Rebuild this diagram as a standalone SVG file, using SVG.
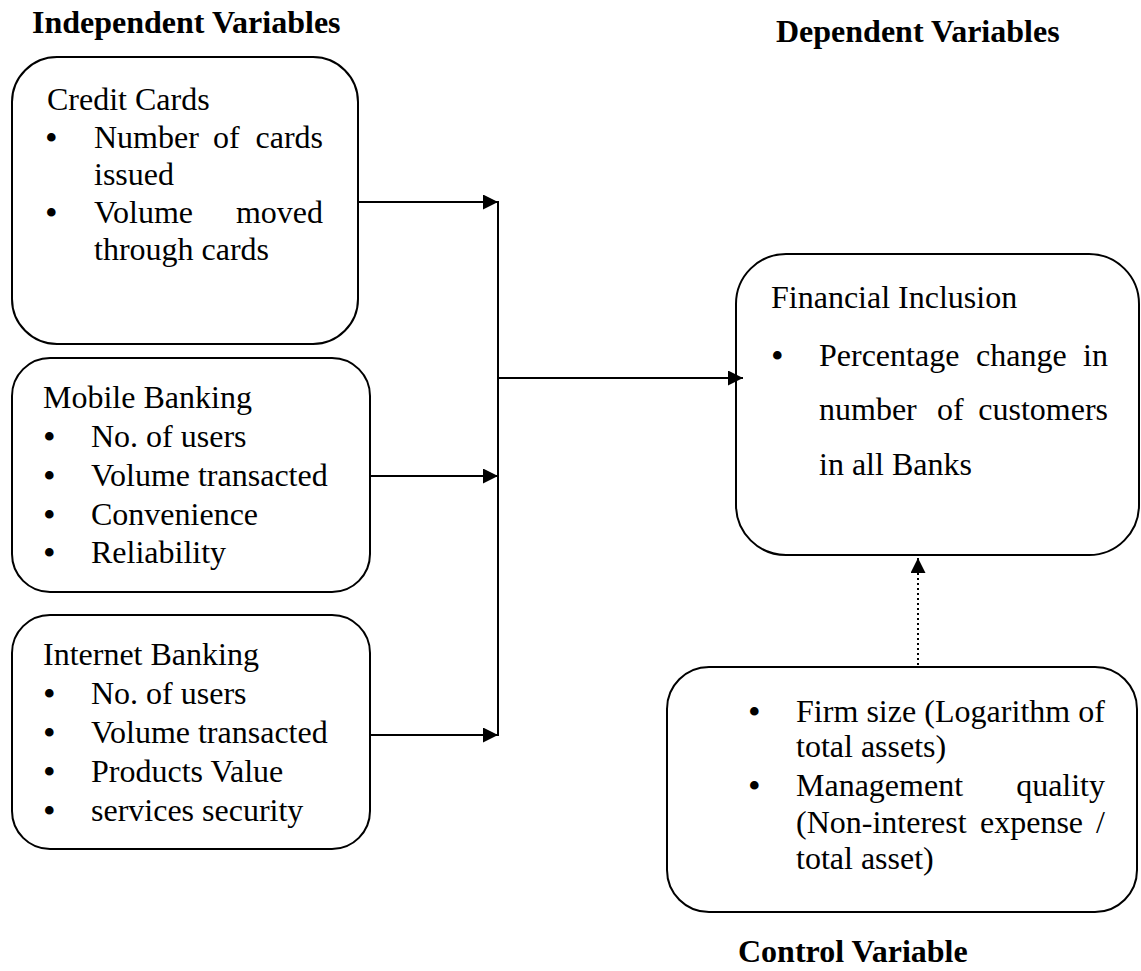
<svg xmlns="http://www.w3.org/2000/svg" width="1141" height="971" viewBox="0 0 1141 971">
<style>
text{font-family:"Liberation Serif","Times New Roman",serif;font-size:32px;fill:#000}
.h{font-weight:bold}
.b{font-size:36px}
.box{fill:#fff;stroke:#000;stroke-width:2}
.c{stroke:#000;stroke-width:2;fill:none}
.d{stroke:#000;stroke-width:2;fill:none;stroke-dasharray:2 3}
</style>
<defs>
<marker id="ah" markerUnits="userSpaceOnUse" markerWidth="16" markerHeight="16" refX="15" refY="7.5" orient="auto">
<path d="M0,0 L15,7.5 L0,15 z" fill="#000"/>
</marker>
</defs>
<rect width="1141" height="971" fill="#fff"/>
<g id="headings">
<text class="h" x="32" y="33">Independent Variables</text>
<text class="h" x="776" y="42">Dependent Variables</text>
<text class="h" x="738" y="962">Control Variable</text>
</g>
<g id="credit-cards">
<rect class="box" x="12" y="57" width="346" height="287" rx="45" ry="45"/>
<text x="47" y="110">Credit Cards</text>
<text class="b" x="45" y="150">•</text>
<text x="94" y="148">Number</text><text x="213" y="148">of</text><text x="323" y="148" text-anchor="end">cards</text>
<text x="94" y="185">issued</text>
<text class="b" x="45" y="225">•</text>
<text x="94" y="223">Volume</text><text x="323" y="223" text-anchor="end">moved</text>
<text x="94" y="260">through cards</text>
</g>
<g id="mobile-banking">
<rect class="box" x="12" y="358" width="358" height="234" rx="38" ry="38"/>
<text x="43" y="408">Mobile Banking</text>
<text class="b" x="43" y="449">•</text><text x="91" y="447">No. of users</text>
<text class="b" x="43" y="488">•</text><text x="91" y="486">Volume transacted</text>
<text class="b" x="43" y="527">•</text><text x="91" y="525">Convenience</text>
<text class="b" x="43" y="565">•</text><text x="91" y="563">Reliability</text>
</g>
<g id="internet-banking">
<rect class="box" x="12" y="615" width="358" height="234" rx="38" ry="38"/>
<text x="43" y="665">Internet Banking</text>
<text class="b" x="43" y="706">•</text><text x="91" y="704">No. of users</text>
<text class="b" x="43" y="745">•</text><text x="91" y="743">Volume transacted</text>
<text class="b" x="43" y="784">•</text><text x="91" y="782">Products Value</text>
<text class="b" x="43" y="823">•</text><text x="91" y="821">services security</text>
</g>
<g id="financial-inclusion">
<rect class="box" x="736" y="254" width="403" height="301" rx="50" ry="50"/>
<text x="771" y="308">Financial Inclusion</text>
<text class="b" x="771" y="368">•</text>
<text x="819" y="366">Percentage</text><text x="976" y="366">change</text><text x="1108" y="366" text-anchor="end">in</text>
<text x="819" y="420">number</text><text x="937" y="420">of</text><text x="1108" y="420" text-anchor="end">customers</text>
<text x="819" y="475">in all Banks</text>
</g>
<g id="control-variable">
<rect class="box" x="667" y="667" width="470" height="245" rx="42" ry="42"/>
<text class="b" x="748" y="724">•</text>
<text x="796" y="722" textLength="309" lengthAdjust="spacing">Firm size (Logarithm of</text>
<text x="796" y="757">total assets)</text>
<text class="b" x="748" y="798">•</text>
<text x="796" y="796">Management</text><text x="1105" y="796" text-anchor="end">quality</text>
<text x="796" y="833">(Non-interest</text><text x="980" y="833">expense</text><text x="1105" y="833" text-anchor="end">/</text>
<text x="796" y="869">total asset)</text>
</g>
<g id="connectors">
<line class="c" x1="358" y1="202" x2="498" y2="202" marker-end="url(#ah)"/>
<line class="c" x1="370" y1="476" x2="498" y2="476" marker-end="url(#ah)"/>
<line class="c" x1="370" y1="735" x2="498" y2="735" marker-end="url(#ah)"/>
<line class="c" x1="498" y1="201" x2="498" y2="736"/>
<line class="c" x1="498" y1="378" x2="743" y2="378" marker-end="url(#ah)"/>
<line class="d" x1="918" y1="665" x2="918" y2="558" marker-end="url(#ah)"/>
</g>
</svg>
